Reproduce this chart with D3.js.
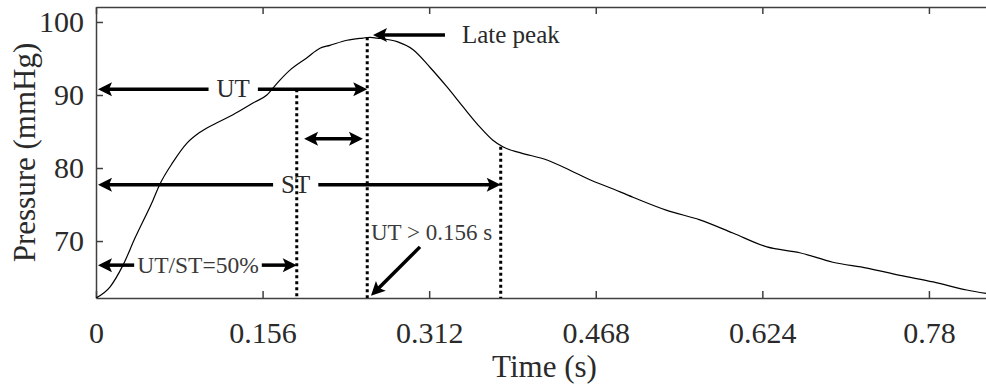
<!DOCTYPE html>
<html>
<head>
<meta charset="utf-8">
<script src="https://cdn.jsdelivr.net/npm/d3@7"></script>
<style>
  html, body { margin: 0; padding: 0; background: #fff; }
  svg { display: block; }
  text { font-family: "Liberation Serif", "Times New Roman", serif; }
</style>
</head>
<body>
<script>
// Radial pressure waveform over one beat
const timeS = [0, 0.013, 0.0253, 0.0365, 0.0534, 0.0599, 0.0721, 0.0852, 0.0974, 0.1133, 0.1283, 0.147, 0.160,
  0.1695, 0.1816, 0.1976, 0.2097, 0.219, 0.235, 0.250, 0.2566, 0.263, 0.282, 0.297, 0.3127, 0.3287, 0.3436,
  0.3596, 0.3717, 0.381, 0.397, 0.4223, 0.4438, 0.4625, 0.4813, 0.5028, 0.5346, 0.5655, 0.5964, 0.6283,
  0.659, 0.690, 0.722, 0.753, 0.784, 0.8155, 0.835];
const pressure = [62.2, 63.7, 66.7, 70.4, 75.6, 77.8, 80.8, 83.4, 84.9, 86.2, 87.3, 88.9, 90.0,
  91.6, 93.4, 95.1, 96.4, 96.8, 97.5, 97.8, 97.9, 97.8, 97.3, 96.2, 93.8, 91.1, 88.4,
  85.6, 83.8, 82.9, 82.1, 81.1, 79.7, 78.4, 77.3, 76.0, 74.2, 72.9, 71.1, 69.2,
  68.4, 67.1, 66.3, 65.3, 64.4, 63.3, 62.8];

const xTicks = [0, 0.156, 0.312, 0.468, 0.624, 0.78];
const yTicks = [70, 80, 90, 100];

// Timing markers (s): half of systole, upstroke time (late peak), systolic time
const markerTimes = [0.188, 0.254, 0.379];
const markerTops = [90.8, 97.9, 82.9];   // pressure where each dotted marker starts

// Horizontal interval arrows
const intervalStart = [0, 0, 0.193, 0];
const intervalEnd = [0.254, 0.379, 0.250, 0.188];
const intervalLevel = [90.8, 77.7, 84.0, 66.7];
const intervalLabel = ["UT", "ST", "", "UT/ST=50%"];
const intervalLabelAt = [0.1285, 0.187, 0, 0.0955];
const intervalFont = [25, 25, 0, 23.5];

const W = 986, H = 387;
const plotL = 96, plotR = 993, plotT = 7, plotB = 298;
const axisColor = "#404040";
const textColor = "#2a2a2a";

const svg = d3.select("body").append("svg").attr("width", W).attr("height", H);

const x = d3.scaleLinear().domain([0, 0.84]).range([plotL, plotR]);
const y = d3.scaleLinear().domain([62.2, 102.05]).range([plotB, plotT]);

svg.append("clipPath").attr("id", "plot-clip")
  .append("rect").attr("x", plotL).attr("y", plotT).attr("width", plotR - plotL).attr("height", plotB - plotT);

// Axes (ticks point inward, box on all four sides)
function styleAxis(g) {
  g.select(".domain").attr("stroke", axisColor).attr("stroke-width", 1.5);
  g.selectAll(".tick line").attr("stroke", axisColor).attr("stroke-width", 1.5);
  g.selectAll(".tick text").attr("fill", textColor).attr("font-size", 30)
    .attr("font-family", '"Liberation Serif", "Times New Roman", serif');
}
const fmt = d => d === 0 ? "0" : String(d);

svg.append("g").attr("transform", `translate(0,${plotB})`)
  .call(d3.axisBottom(x).tickValues(xTicks).tickFormat(fmt).tickSizeInner(-7).tickSizeOuter(0).tickPadding(24))
  .call(styleAxis);
svg.append("g").attr("transform", `translate(0,${plotT})`)
  .call(d3.axisTop(x).tickValues(xTicks).tickFormat("").tickSizeInner(-7).tickSizeOuter(0))
  .call(styleAxis);
svg.append("g").attr("transform", `translate(${plotL},0)`)
  .call(d3.axisLeft(y).tickValues(yTicks).tickFormat(fmt).tickSizeInner(-7).tickSizeOuter(0).tickPadding(12))
  .call(styleAxis);
svg.append("g").attr("transform", `translate(${plotR},0)`)
  .call(d3.axisRight(y).tickValues(yTicks).tickFormat("").tickSizeInner(-7).tickSizeOuter(0))
  .call(styleAxis);

svg.append("text").attr("x", (plotL + plotR) / 2).attr("y", 377)
  .attr("text-anchor", "middle").attr("font-size", 31).attr("fill", textColor).text("Time (s)");
svg.append("text").attr("transform", `translate(35,${(plotT + plotB) / 2}) rotate(-90)`)
  .attr("text-anchor", "middle").attr("font-size", 31).attr("fill", textColor).text("Pressure (mmHg)");

// Waveform
const series = timeS.map((t, i) => ({ t, p: pressure[i] }));
svg.append("path").datum(series)
  .attr("clip-path", "url(#plot-clip)")
  .attr("fill", "none").attr("stroke", "#000").attr("stroke-width", 1.2)
  .attr("d", d3.line().x(d => x(d.t)).y(d => y(d.p)).curve(d3.curveMonotoneX));

// Dotted timing markers
const ann = svg.append("g");
markerTimes.forEach((t, i) => {
  ann.append("line")
    .attr("x1", x(t)).attr("x2", x(t))
    .attr("y1", y(markerTops[i])).attr("y2", plotB)
    .attr("stroke", "#000").attr("stroke-width", 3).attr("stroke-dasharray", "3,3");
});

// Arrow head: filled, notched back, tip at (tx, ty) pointing along angle
function head(g, tx, ty, angle) {
  const L = 14, Wd = 7, N = 3;
  g.append("path")
    .attr("d", `M0,0L${-L},${-Wd}L${-L + N},0L${-L},${Wd}Z`)
    .attr("transform", `translate(${tx},${ty}) rotate(${angle * 180 / Math.PI})`)
    .attr("fill", "#000");
}
function seg(g, x1, y1, x2, y2) {
  g.append("line").attr("x1", x1).attr("y1", y1).attr("x2", x2).attr("y2", y2)
    .attr("stroke", "#000").attr("stroke-width", 3.5);
}

intervalStart.forEach((t0, i) => {
  const xa = x(t0) + 2, xb = x(intervalEnd[i]), yy = y(intervalLevel[i]);
  const label = intervalLabel[i];
  const backA = xa + 10, backB = xb - 10;
  if (label) {
    const fs = intervalFont[i];
    const tx = ann.append("text")
      .attr("x", x(intervalLabelAt[i])).attr("y", yy + fs * 0.662 / 2)
      .attr("text-anchor", "middle").attr("font-size", fs).attr("fill", i === 3 ? "#3a3a3a" : textColor)
      .text(label);
    const bb = tx.node().getBBox();
    const pad = i === 3 ? 3 : 8;
    seg(ann, backA, yy, bb.x - pad, yy);
    seg(ann, bb.x + bb.width + pad, yy, backB, yy);
  } else {
    seg(ann, backA, yy, backB, yy);
  }
  head(ann, xa, yy, Math.PI);
  head(ann, xb, yy, 0);
});

// Late peak callout
const lpY = y(98.2);
seg(ann, x(0.3268), lpY, x(0.2594) + 10, lpY);
head(ann, x(0.2594), lpY, Math.PI);
ann.append("text").attr("x", x(0.3427)).attr("y", lpY + 25 * 0.662 / 2)
  .attr("font-size", 25).attr("fill", textColor).text("Late peak");

// Upstroke threshold callout
ann.append("text").attr("x", x(0.2575)).attr("y", y(70.14))
  .attr("font-size", 23).attr("fill", "#3a3a3a").text("UT > 0.156 s");
{
  const x1 = x(0.3034), y1 = y(69.2), x2 = x(0.2575), y2 = y(62.5);
  const a = Math.atan2(y2 - y1, x2 - x1);
  seg(ann, x1, y1, x2 - 10 * Math.cos(a), y2 - 10 * Math.sin(a));
  head(ann, x2, y2, a);
}
</script>
</body>
</html>
